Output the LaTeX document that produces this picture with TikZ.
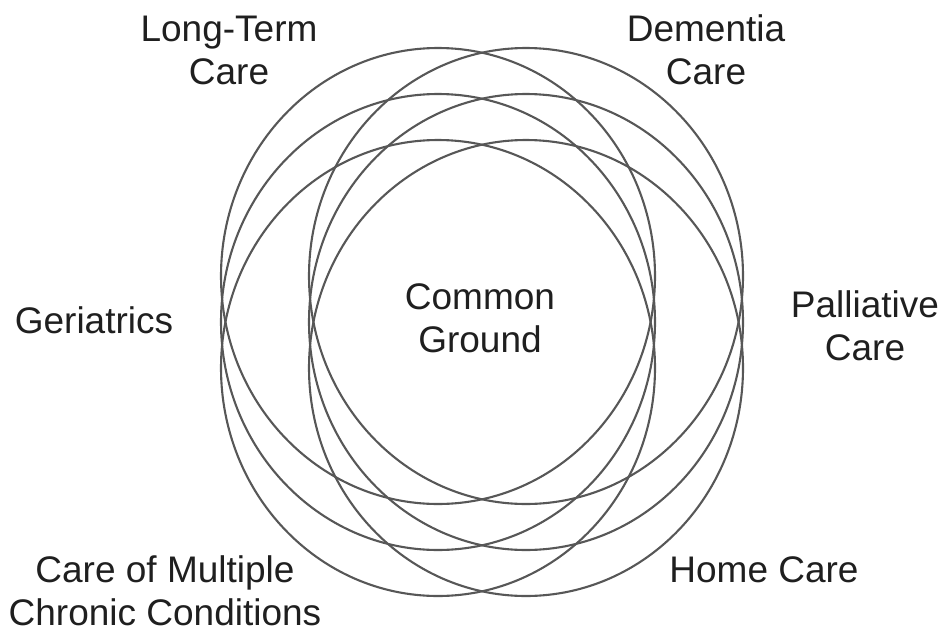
\documentclass[tikz,border=0pt]{standalone}
\usepackage{fontspec}
\setmainfont{Liberation Sans}
\begin{document}
\begin{tikzpicture}[x=1pt,y=-1pt,
    ring/.style={draw=black!66, line width=2.1pt},
    lbl/.style={align=center, text=black!88, inner sep=0pt,
      font=\fontsize{37}{43}\selectfont}]
  \useasboundingbox (0,0) rectangle (942,635);

  % six rings, two columns of three
  \foreach \dx in {-44,44}
    \foreach \dy in {-46,0,46}
      \draw[ring] (482+\dx,322+\dy) ellipse [x radius=217pt, y radius=228pt];

  \node[lbl] (common) at (480,318) {Common\\Ground};

  \node[lbl] (longterm) at (229,50) {Long-Term\\Care};
  \node[lbl] (dementia) at (706,50) {Dementia\\Care};
  \node[lbl] (geriatrics) at (94,320) {Geriatrics};
  \node[lbl] (palliative) at (865,326) {Palliative\\Care};
  \node[lbl] (multiple) at (165,591) {Care of Multiple\\Chronic Conditions};
  \node[lbl] (home) at (764,570) {Home Care};
\end{tikzpicture}
\end{document}
